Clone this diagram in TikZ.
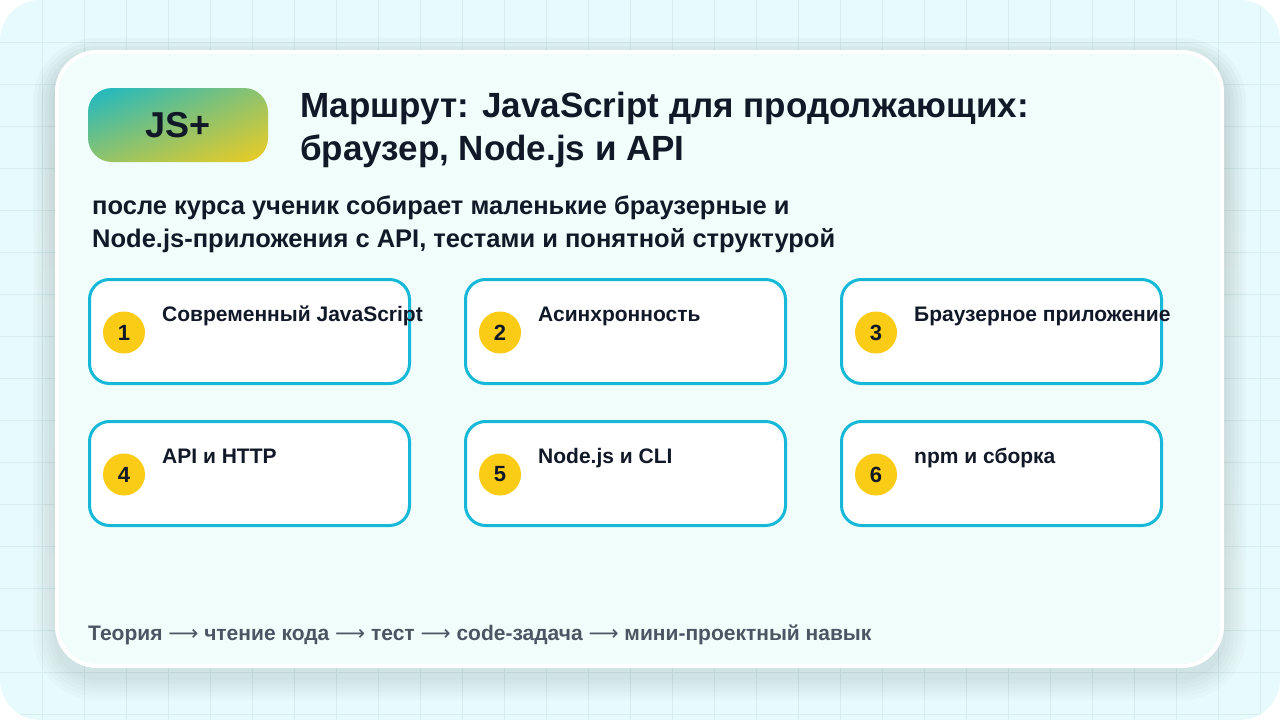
\documentclass[tikz,border=0pt]{standalone}
\usepackage{fontspec}
\setmainfont{Liberation Sans}
\newfontfamily\arrowfont{DejaVu Sans}
\usetikzlibrary{positioning,shadings}
\definecolor{ink}{HTML}{111827}
\definecolor{bgsky}{HTML}{E8FBFC}
\definecolor{gridc}{HTML}{D6EEF0}
\definecolor{cardbg}{HTML}{F0FDFA}
\definecolor{edge}{HTML}{16B8D8}
\definecolor{dot}{HTML}{FACC15}
\definecolor{muted}{HTML}{4B5563}
\definecolor{teal}{HTML}{18B8C8}
\definecolor{gold}{HTML}{F0CC20}
\definecolor{shade}{HTML}{5B8A94}
\newcommand\ra{{\arrowfont\mdseries ⟶}}
\tikzset{
  stage/.style={draw=edge,line width=3pt,fill=white,rounded corners=20pt,
    minimum width=320pt,minimum height=104pt,inner sep=0pt},
  num/.style={circle,fill=dot,minimum size=42pt,inner sep=0pt,
    font=\fontsize{22}{22}\selectfont\bfseries,text=ink},
  lbl/.style={anchor=base west,inner sep=0pt,font=\fontsize{21}{21}\selectfont\bfseries,text=ink},
  head/.style={anchor=base west,inner sep=0pt,text=ink,font=\fontsize{35}{35}\selectfont\bfseries},
  lead/.style={anchor=base west,inner sep=0pt,text=ink,font=\fontsize{25.5}{25.5}\selectfont\bfseries}
}
\begin{document}
\begin{tikzpicture}[x=1pt,y=-1pt]
\useasboundingbox (0,0) rectangle (1280,720);
\fill[bgsky,rounded corners=40pt] (0,0) rectangle (1280,720);
\begin{scope}
\clip[rounded corners=40pt] (0,0) rectangle (1280,720);
\foreach \x in {42,84,...,1280} \draw[gridc,line width=0.8pt] (\x,0) -- (\x,720);
\foreach \y in {42,84,...,720} \draw[gridc,line width=0.8pt] (0,\y) -- (1280,\y);
\end{scope}
% soft shadow
\foreach \d in {24,20,...,2}
  \fill[shade,opacity=0.014,rounded corners=40pt+\d pt] (57-\d,52-\d+10) rectangle (1222+\d,666+\d+10);
% main card
\draw[white,line width=4pt,fill=cardbg,rounded corners=40pt] (57,52) rectangle (1222,666);
% badge
\shade[rounded corners=24pt,upper left=teal,upper right=teal!45!gold,
  lower left=teal!45!gold,lower right=gold] (88,88) rectangle (268,162);
\node[text=ink,font=\fontsize{36}{36}\selectfont\bfseries] (badge) at (178,125) {JS+};
\node[head] (title1) at (300,117) {Маршрут: JavaScript для продолжающих:};
\node[head] (title2) at (300,160) {браузер, Node.js и API};
\node[lead] (sub1) at (92,214) {после курса ученик собирает маленькие браузерные и};
\node[lead] (sub2) at (92,247) {Node.js-приложения с API, тестами и понятной структурой};
% stages
\foreach \i/\x/\y/\t in {1/88/278/Современный JavaScript,2/464/278/Асинхронность,
  3/840/278/Браузерное приложение,4/88/420/API и HTTP,5/464/420/Node.js и CLI,
  6/840/420/npm и сборка}{
  \node[stage,anchor=north west] (s\i) at (\x,\y) {};
  \node[num] (n\i) at ([xshift=36pt,yshift=-1pt]s\i.west) {\i};
  \node[lbl] (t\i) at ([xshift=74pt,yshift=-43pt]s\i.north west) {\t};
}
\node[anchor=base west,inner sep=0pt,text=muted,font=\fontsize{21}{21}\selectfont\bfseries]
  (foot) at (88,640) {Теория \ra{} чтение кода \ra{} тест \ra{} code-задача \ra{} мини-проектный навык};
\end{tikzpicture}
\end{document}
